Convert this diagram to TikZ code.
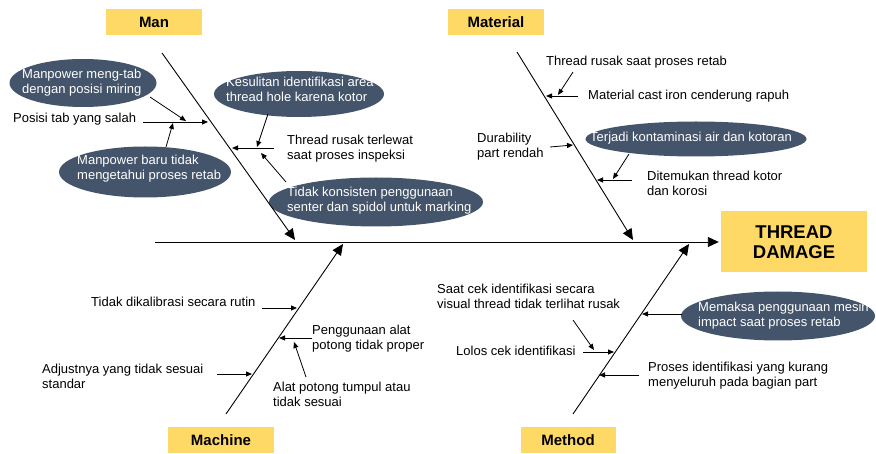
\documentclass[tikz,border=0pt]{standalone}
\usepackage{fontspec}
\setmainfont{Liberation Sans}
\usetikzlibrary{arrows.meta,shapes.geometric}
\definecolor{boxyellow}{HTML}{FFD966}
\definecolor{bubblecol}{HTML}{44546A}
\begin{document}
\begin{tikzpicture}[x=1pt,y=-1pt,
  txt/.style={font=\fontsize{13}{15}\selectfont, inner sep=0pt, anchor=west, align=left},
  wtxt/.style={txt, text=white},
  bub/.style={ellipse, fill=bubblecol, inner sep=0pt},
  cat/.style={fill=boxyellow, font=\fontsize{15}{18}\selectfont\bfseries, inner sep=0pt},
  sarr/.style={-{Triangle[length=6pt,width=5pt]}, line width=0.8pt},
  barr/.style={-{Triangle[length=11pt,width=10pt]}, line width=0.9pt}
]
\useasboundingbox (0,0) rectangle (876,454);

% category boxes
\node[cat, minimum width=96pt, minimum height=26pt] (man) at (154,22) {Man};
\node[cat, minimum width=96pt, minimum height=26pt] (mat) at (496,22) {Material};
\node[cat, minimum width=106pt, minimum height=26pt] (mac) at (221,440) {Machine};
\node[cat, minimum width=95pt, minimum height=26pt] (met) at (568,440) {Method};
\node[cat, minimum width=146pt, minimum height=61pt, font=\fontsize{18.5}{20}\selectfont\bfseries, align=center] (td) at (794,242) {THREAD\\DAMAGE};

% bubbles
\node[bub, minimum width=147pt, minimum height=48pt] (e1) at (83,83) {};
\node[wtxt] (e1t) at (22,82.5) {Manpower meng-tab\\dengan posisi miring};
\node[bub, minimum width=170pt, minimum height=46pt] (e2) at (299,94) {};
\node[wtxt] (e2t) at (226,89.5) {Kesulitan identifikasi area\\thread hole karena kotor};
\node[bub, minimum width=172pt, minimum height=51pt] (e3) at (145,172) {};
\node[wtxt] (e3t) at (77,168.5) {Manpower baru tidak\\mengetahui proses retab};
\node[bub, minimum width=214pt, minimum height=49pt] (e4) at (376,202) {};
\node[wtxt] (e4t) at (287,200.5) {Tidak konsisten penggunaan\\senter dan spidol untuk marking};
\node[bub, minimum width=221pt, minimum height=35pt] (e5) at (696,139) {};
\node[wtxt] (e5t) at (590,138) {Terjadi kontaminasi air dan kotoran};
\node[bub, minimum width=194pt, minimum height=49pt] (e6) at (778,316) {};
\node[wtxt] (e6t) at (698,315.5) {Memaksa penggunaan mesin\\impact saat proses retab};

% texts
\node[txt] (t1) at (13,119) {Posisi tab yang salah};
\node[txt] (t2) at (287,149) {Thread rusak terlewat\\saat proses inspeksi};
\node[txt] (t3) at (546,62) {Thread rusak saat proses retab};
\node[txt] (t4) at (588,96) {Material cast iron cenderung rapuh};
\node[txt] (t5) at (477,147) {Durability\\part rendah};
\node[txt] (t6) at (647,183) {Ditemukan thread kotor\\dan korosi};
\node[txt] (t7) at (91,302) {Tidak dikalibrasi secara rutin};
\node[txt] (t8) at (312,339) {Penggunaan alat\\potong tidak proper};
\node[txt] (t9) at (273,394) {Alat potong tumpul atau\\tidak sesuai};
\node[txt] (t10) at (42,376) {Adjustnya yang tidak sesuai\\standar};
\node[txt] (t11) at (437,296) {Saat cek identifikasi secara\\visual thread tidak terlihat rusak};
\node[txt] (t12) at (456,351) {Lolos cek identifikasi};
\node[txt] (t13) at (648,376) {Proses identifikasi yang kurang\\menyeluruh pada bagian part};

% spine and bones
\coordinate (sp0) at (155,242);
\draw[barr] (sp0) -- ([xshift=-2pt]td.west);
\coordinate (manS) at (162,53);  \coordinate (manE) at (295,240);
\coordinate (matS) at (517,52);  \coordinate (matE) at (633,240);
\coordinate (macS) at (226,414); \coordinate (macE) at (343,244);
\coordinate (metS) at (573,414); \coordinate (metE) at (689,244);
\draw[barr] (manS) -- (manE);
\draw[barr] (matS) -- (matE);
\draw[barr] (macS) -- (macE);
\draw[barr] (metS) -- (metE);

% Man sub-arrows
\coordinate (a1s) at (143,122); \coordinate (a1e) at (208,122);
\coordinate (a2s) at (150,97);  \coordinate (a2e) at (186,121);
\coordinate (a3s) at (166,147); \coordinate (a3e) at (173,123);
\coordinate (a4s) at (274,148); \coordinate (a4e) at (232,148);
\coordinate (a5s) at (268,114); \coordinate (a5e) at (257,147);
\coordinate (a6s) at (286,182); \coordinate (a6e) at (261,153);
\foreach \n in {a1,a2,a3,a4,a5,a6} \draw[sarr] (\n s) -- (\n e);

% Material sub-arrows
\coordinate (b1s) at (573,72);  \coordinate (b1e) at (558,95);
\coordinate (b2s) at (578,96);  \coordinate (b2e) at (546,96);
\coordinate (b3s) at (550,147); \coordinate (b3e) at (573,145);
\coordinate (b4s) at (629,154); \coordinate (b4e) at (613,179);
\coordinate (b5s) at (632,180); \coordinate (b5e) at (597,180);
\foreach \n in {b1,b2,b3,b4,b5} \draw[sarr] (\n s) -- (\n e);

% Machine sub-arrows
\coordinate (c1s) at (262,308); \coordinate (c1e) at (297,308);
\coordinate (c2s) at (312,338); \coordinate (c2e) at (279,338);
\coordinate (c3s) at (306,377); \coordinate (c3e) at (294,342);
\coordinate (c4s) at (217,374); \coordinate (c4e) at (252,374);
\foreach \n in {c1,c2,c3,c4} \draw[sarr] (\n s) -- (\n e);

% Method sub-arrows
\coordinate (d1s) at (573,320); \coordinate (d1e) at (594,350);
\coordinate (d2s) at (583,352); \coordinate (d2e) at (614,352);
\coordinate (d3s) at (682,314); \coordinate (d3e) at (642,314);
\coordinate (d4s) at (639,375); \coordinate (d4e) at (599,375);
\foreach \n in {d1,d2,d3,d4} \draw[sarr] (\n s) -- (\n e);
\end{tikzpicture}
\end{document}
